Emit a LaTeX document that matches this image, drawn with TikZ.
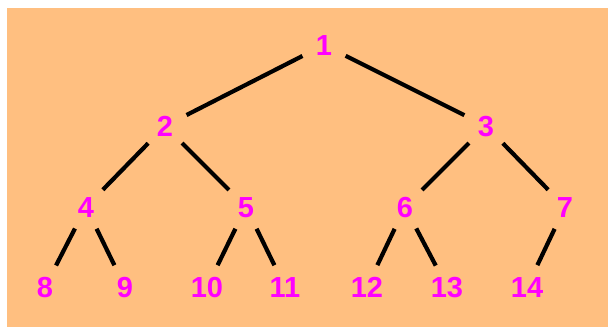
\documentclass[tikz,border=0pt]{standalone}
\usepackage{fontspec}
\setmainfont{Liberation Sans}
\definecolor{peach}{RGB}{255,191,128}
\definecolor{numpink}{RGB}{255,0,255}
\begin{document}
\begin{tikzpicture}[x=1pt,y=-1pt,
  num/.style={circle,minimum size=48pt,inner sep=0pt,text=numpink,
    text height=21pt,text depth=0pt,
    font=\fontsize{29}{29}\selectfont\bfseries},
  edge/.style={line width=4.2pt,black}]
  \useasboundingbox (0,0) rectangle (608,327);
  \fill[white] (0,0) rectangle (608,327);
  \fill[peach] (7,8) rectangle (608,327);
  % tree nodes
  \node[num] (n1)  at (324,45)  {1};
  \node[num] (n2)  at (165,126) {2};
  \node[num] (n3)  at (486,126) {3};
  \node[num] (n4)  at (86,207)  {4};
  \node[num] (n5)  at (246,207) {5};
  \node[num] (n6)  at (405,207) {6};
  \node[num] (n7)  at (565,207) {7};
  \node[num] (n8)  at (45,287)  {8};
  \node[num] (n9)  at (125,287) {9};
  \node[num] (n10) at (207,287) {10};
  \node[num] (n11) at (285,287) {11};
  \node[num] (n12) at (367,287) {12};
  \node[num] (n13) at (447,287) {13};
  \node[num] (n14) at (527,287) {14};
  % edges
  \draw[edge] (n1) -- (n2);
  \draw[edge] (n1) -- (n3);
  \draw[edge] (n2) -- (n4);
  \draw[edge] (n2) -- (n5);
  \draw[edge] (n3) -- (n6);
  \draw[edge] (n3) -- (n7);
  \draw[edge] (n4) -- (n8);
  \draw[edge] (n4) -- (n9);
  \draw[edge] (n5) -- (n10);
  \draw[edge] (n5) -- (n11);
  \draw[edge] (n6) -- (n12);
  \draw[edge] (n6) -- (n13);
  \draw[edge] (n7) -- (n14);
\end{tikzpicture}
\end{document}
